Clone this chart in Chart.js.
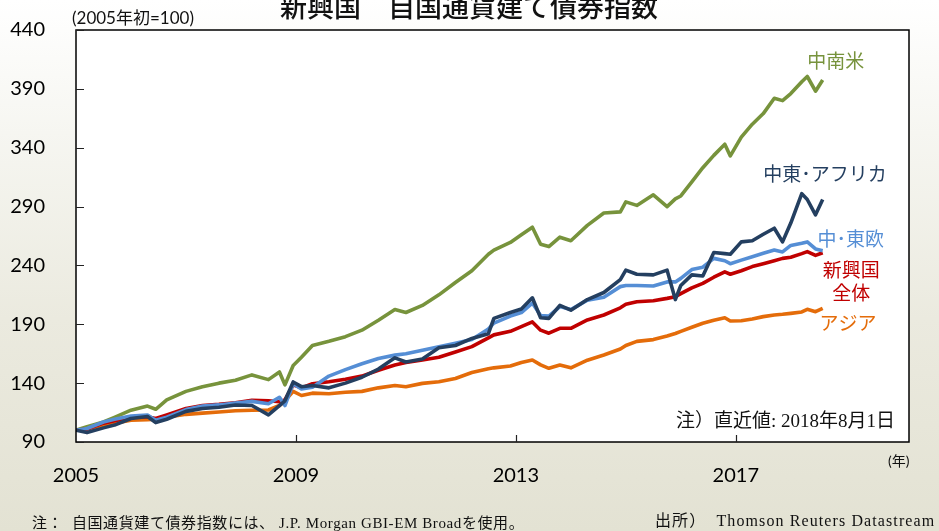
<!DOCTYPE html>
<html lang="ja">
<head>
<meta charset="utf-8">
<script src="https://cdn.jsdelivr.net/npm/chart.js@4.4.1/dist/chart.umd.min.js"></script>
<style>
  html, body { margin: 0; padding: 0; }
  body {
    width: 939px; height: 531px; overflow: hidden;
    background: linear-gradient(to bottom, #ffffff 0%, #f6f6f1 25%, #ebeadf 60%, #e3e2d3 100%);
  }
  #wrap { position: relative; width: 939px; height: 531px; }
</style>
</head>
<body>
<div id="wrap"><canvas id="chart" width="939" height="531"></canvas></div>
<script>
// time axis in decimal years
const dates = [
  2005.0, 2005.2, 2005.5, 2005.7, 2006.0, 2006.3, 2006.45, 2006.65, 2007.0, 2007.3,
  2007.6, 2007.9, 2008.2, 2008.5, 2008.7, 2008.8, 2008.95, 2009.1, 2009.3, 2009.6,
  2009.9, 2010.2, 2010.5, 2010.8, 2011.0, 2011.3, 2011.6, 2011.9, 2012.2, 2012.5,
  2012.6, 2012.9, 2013.1, 2013.3, 2013.45, 2013.6, 2013.8, 2014.0, 2014.3, 2014.6,
  2014.9, 2015.0, 2015.2, 2015.5, 2015.75, 2015.9, 2016.0, 2016.2, 2016.4, 2016.6,
  2016.8, 2016.9, 2017.1, 2017.3, 2017.5, 2017.7, 2017.85, 2018.0, 2018.2, 2018.3,
  2018.45, 2018.58
];

const latam = [
  100, 103, 107, 111, 117, 120.5, 117.8, 125.7, 133, 137,
  140, 142.5, 147, 143, 149.5, 138.5, 155, 162, 172, 175.5,
  179.5, 185, 193.5, 202.5, 200, 206, 215, 225.5, 235.5, 249.5,
  253, 259.5, 266, 272.5, 258, 256, 264, 261, 274, 284.5,
  285.5, 294, 291, 300, 290, 296.5, 299, 311, 323, 333.5,
  343, 333, 349, 360, 369, 382, 380, 386, 396, 400.5,
  388, 397.5
];

const meAfrica = [
  100, 98, 102, 104.4, 110, 111.7, 106.5, 109.3, 116, 118.5,
  119.5, 121.4, 121, 113, 121, 125, 141, 137, 138, 136,
  140, 145, 152, 161.5, 158, 160.5, 170, 172, 178, 182,
  195, 200, 203, 212.5, 195.5, 195, 206, 202, 211, 217,
  228, 236, 232.5, 232, 236, 211, 223, 232, 231, 251,
  250, 249.5, 260, 261, 266.5, 271.6, 260, 276, 301, 296,
  283, 296
];

const ceEurope = [
  100, 101.5, 107, 109.3, 112, 113, 108.5, 111, 117.5, 120.5,
  121.5, 123, 124.5, 122.5, 128, 121, 139.5, 135, 136.5, 146,
  151.5, 156.5, 161, 163.8, 165, 168, 171, 173.9, 177, 186,
  191, 197, 200, 208, 197.5, 197, 205, 202.5, 210.5, 213,
  222, 223, 223, 222.5, 226, 226, 229, 236.5, 238.5, 246,
  244, 241.5, 244.5, 247.4, 250.3, 253.1, 251.5, 257, 258.8, 260,
  254, 252.5
];

const emAll = [
  100, 101, 106, 108, 111, 111.5, 110, 113, 118.5, 121,
  122, 123.4, 125.5, 125, 124.2, 125.7, 138.5, 136, 139.5, 141.2,
  143.3, 146, 151, 155.4, 157.5, 159.7, 162, 166.5, 171, 178.5,
  181, 184, 188, 192, 185, 182.4, 186.6, 186.6, 193.7, 197.9,
  204, 207, 209.2, 210, 212, 213.4, 216, 221, 224.8, 230,
  234.5, 232.5, 235.5, 239, 241.5, 244, 246, 247, 250, 251.7,
  248.5, 250.8
];

const asia = [
  100, 101, 104.4, 106, 108.5, 109, 109.3, 111, 113.5, 114.5,
  115.5, 116.5, 117, 117.2, 121, 125, 133, 129.5, 131.5, 131,
  132.3, 133, 136, 138, 137, 139.8, 141.2, 144, 149, 152.3,
  153, 154.5, 157.5, 159.7, 155.5, 152.6, 155.4, 153, 159.5, 163.9,
  169, 172, 175.5, 177, 180, 182.2, 184, 187.5, 190.9, 193.5,
  195.5, 192.8, 193, 194.5, 196.5, 197.9, 198.5, 199.3, 200.5, 202.7,
  200.7, 203.6
];

const xTicks = [2005, 2009, 2013, 2017];
const yTicks = [90, 140, 190, 240, 290, 340, 390, 440];

const GREEN  = '#77933c';
const NAVY   = '#243f60';
const LBLUE  = '#558ed5';
const RED    = '#c00000';
const ORANGE = '#e46c0a';

const JP = "'Noto Sans CJK JP'";

// series name labels, anchored in data coordinates
const seriesLabels = [
  { lines: ['中南米'],        x: 2018.82, y: 414, color: GREEN },
  { lines: ['中東･アフリカ'], x: 2018.62, y: 318, color: NAVY },
  { lines: ['中･東欧'],      x: 2019.09, y: 263, color: LBLUE },
  { lines: ['新興国', '全体'], x: 2019.10, y: 236, color: RED },
  { lines: ['アジア'],        x: 2019.04, y: 191, color: ORANGE },
];

const pts = (vals) => dates.map((d, i) => ({ x: d, y: vals[i] }));

function series(label, vals, color) {
  return {
    label,
    data: pts(vals),
    borderColor: color,
    backgroundColor: color,
    borderWidth: 3.6,
    pointRadius: 0,
    tension: 0,
    borderJoinStyle: 'round',
  };
}

const decor = {
  id: 'decor',
  beforeDraw(chart) {
    const { ctx, chartArea: a } = chart;
    ctx.save();
    ctx.fillStyle = '#ffffff';
    ctx.fillRect(a.left, a.top, a.right - a.left, a.bottom - a.top);
    ctx.restore();
  },
  afterDraw(chart) {
    const { ctx, chartArea: a, scales } = chart;
    ctx.save();

    // frame
    ctx.strokeStyle = '#000';
    ctx.lineWidth = 1.5;
    ctx.strokeRect(a.left, a.top, a.right - a.left, a.bottom - a.top);

    // inner tick marks
    ctx.lineWidth = 1.2;
    ctx.strokeStyle = '#222';
    ctx.beginPath();
    yTicks.forEach((v) => {
      const py = Math.round(scales.y.getPixelForValue(v)) + 0.5;
      ctx.moveTo(a.left, py);
      ctx.lineTo(a.left + 8, py);
    });
    xTicks.slice(1).forEach((v) => {
      const px = Math.round(scales.x.getPixelForValue(v)) + 0.5;
      ctx.moveTo(px, a.bottom);
      ctx.lineTo(px, a.bottom - 7);
    });
    ctx.stroke();

    // series labels
    ctx.textAlign = 'center';
    ctx.textBaseline = 'middle';
    ctx.font = `19px ${JP}`;
    seriesLabels.forEach((l) => {
      const px = scales.x.getPixelForValue(l.x);
      const py = scales.y.getPixelForValue(l.y);
      ctx.fillStyle = l.color;
      l.lines.forEach((t, i) => ctx.fillText(t, px, py + i * 23));
    });

    // title
    ctx.fillStyle = '#111';
    ctx.font = `500 27px ${JP}`;
    ctx.fillText('新興国　自国通貨建て債券指数', 469, 7);

    // unit labels
    ctx.textAlign = 'left';
    ctx.font = `17px 'Lato', ${JP}`;
    ctx.fillText('(2005年初=100)', 72, 19);
    ctx.font = `14px 'Lato', ${JP}`;
    ctx.fillText('(年)', 888, 461);

    // note inside plot
    ctx.textAlign = 'right';
    ctx.font = `19px 'Liberation Serif', ${JP}`;
    ctx.fillText('注）直近値: 2018年8月1日', 895, 422);

    // footer
    ctx.textAlign = 'left';
    ctx.font = `15px 'Liberation Serif', ${JP}`;
    ctx.letterSpacing = '0.6px';
    ctx.fillText('注：  自国通貨建て債券指数には、 J.P. Morgan GBI-EM Broadを使用。', 32, 524);
    ctx.font = `16px 'Liberation Serif', ${JP}`;
    ctx.letterSpacing = '1.1px';
    ctx.fillText('出所）  Thomson Reuters Datastream', 655, 522);

    ctx.restore();
  },
};

new Chart(document.getElementById('chart'), {
  type: 'line',
  data: {
    datasets: [
      series('中東・アフリカ', meAfrica, NAVY),
      series('中・東欧', ceEurope, LBLUE),
      series('新興国全体', emAll, RED),
      series('中南米', latam, GREEN),
      series('アジア', asia, ORANGE),
    ],
  },
  options: {
    responsive: false,
    animation: false,
    devicePixelRatio: 1,
    layout: { padding: { top: 30, right: 30, left: 0, bottom: 0 } },
    plugins: {
      legend: { display: false },
      tooltip: { enabled: false },
    },
    scales: {
      x: {
        type: 'linear',
        min: 2005,
        max: 2020.15,
        afterBuildTicks: (s) => { s.ticks = xTicks.map((v) => ({ value: v })); },
        afterFit: (s) => { s.height = 89; s.paddingLeft = 0; s.paddingRight = 0; },
        grid: { display: false, drawTicks: false },
        border: { display: false },
        ticks: {
          padding: 22,
          autoSkip: false,
          maxRotation: 0,
          color: '#000',
          font: { family: 'Lato', size: 20 },
          callback: (v) => String(v),
        },
      },
      y: {
        min: 90,
        max: 440,
        afterBuildTicks: (s) => { s.ticks = yTicks.map((v) => ({ value: v })); },
        afterFit: (s) => { s.width = 76; s.paddingTop = 0; s.paddingBottom = 0; },
        grid: { display: false, drawTicks: false },
        border: { display: false },
        ticks: {
          padding: 31,
          color: '#000',
          font: { family: 'Lato', size: 20 },
          callback: (v) => String(v),
        },
      },
    },
  },
  plugins: [decor],
});
</script>
</body>
</html>
